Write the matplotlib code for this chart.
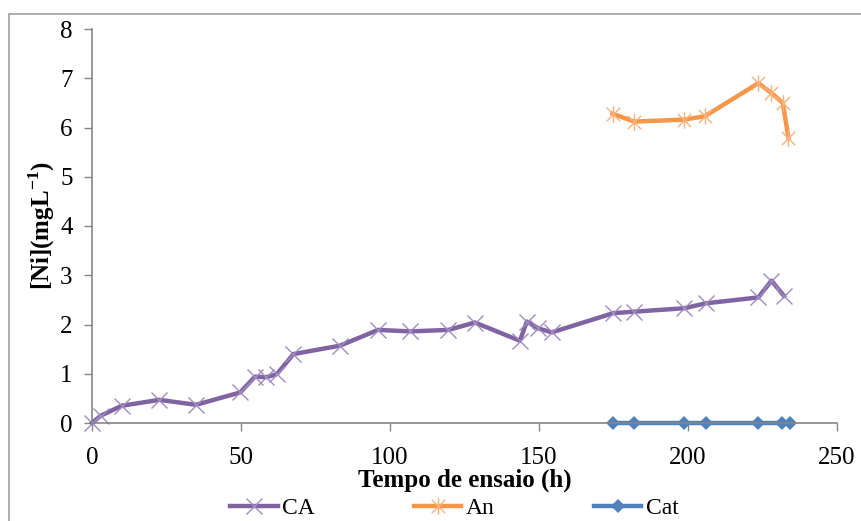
import matplotlib
matplotlib.use("Agg")
import matplotlib.pyplot as plt
from matplotlib.path import Path
from matplotlib.patches import Rectangle

# Data
ca_t = [0, 3, 10, 22.6, 34.9, 49.7, 54.7, 58.5, 62, 67.6, 83.2, 96, 106.7,
        119.6, 128.5, 143.6, 145.9, 149.8, 154.3, 174.9, 181.9, 198.7, 206,
        223.6, 228, 232.2]
ca_v = [0, 0.15, 0.35, 0.47, 0.37, 0.62, 0.94, 0.93, 0.99, 1.4, 1.57, 1.89, 1.86,
        1.89, 2.04, 1.67, 2.06, 1.92, 1.84, 2.23, 2.26, 2.33, 2.43,
        2.55, 2.89, 2.58]
an_t = [174.7, 181.9, 198.7, 205.7, 223.6, 228, 231.8, 233.7]
an_v = [6.28, 6.12, 6.16, 6.23, 6.9, 6.7, 6.5, 5.79]
cat_t = [174.9, 181.9, 198.7, 206, 223.6, 231.4, 234.2]
cat_v = [0, 0, 0, 0, 0, 0, 0]

x_ticks = [0, 50, 100, 150, 200, 250]
y_ticks = [0, 1, 2, 3, 4, 5, 6, 7, 8]

plt.rcParams['font.family'] = ['Liberation Serif', 'DejaVu Serif']
plt.rcParams['mathtext.fontset'] = 'custom'
plt.rcParams['mathtext.rm'] = 'Liberation Serif'
plt.rcParams['mathtext.bf'] = 'Liberation Serif:bold'

# asterisk marker: vertical line + two diagonals
star = Path([(0, -1), (0, 1), (-0.8, -0.8), (0.8, 0.8), (-0.8, 0.8), (0.8, -0.8)],
            [Path.MOVETO, Path.LINETO, Path.MOVETO, Path.LINETO, Path.MOVETO, Path.LINETO])

fig = plt.figure(figsize=(8.61, 5.21), dpi=100)
ax = fig.add_axes([92/861, 1 - 423/521, (837 - 92)/861, (423 - 29)/521])

c_ca = '#8064A2'
c_an = '#F79646'
c_cat = '#4F81BD'

ax.plot(ca_t, ca_v, color=c_ca, lw=3.2, marker='x', ms=12, mew=1.0,
        mec='#A08CC0', label='CA', solid_joinstyle='round', clip_on=False)
ax.plot(an_t, an_v, color=c_an, lw=3.2, marker=star, ms=12, mew=1.0,
        mec='#F9B07A', label='An', solid_joinstyle='round', clip_on=False)
ax.plot(cat_t, cat_v, color=c_cat, lw=3.2, marker='D', ms=7.5, mew=0,
        label='Cat', clip_on=False)

ax.set_xlim(0, 250)
ax.set_ylim(0, 8)
ax.set_xticks(x_ticks)
ax.set_yticks(y_ticks)
ax.tick_params(axis='both', labelsize=18, color='#868686', length=6, width=1,
               direction='out')
ax.tick_params(axis='x', pad=11)
ax.tick_params(axis='y', pad=8)
for s in ['top', 'right']:
    ax.spines[s].set_visible(False)
for s in ['left', 'bottom']:
    ax.spines[s].set_color('#868686')
    ax.spines[s].set_linewidth(1.2)

ax.set_xlabel('Tempo de ensaio (h)', fontsize=18, fontweight='bold', labelpad=0)
ax.set_ylabel(r'[Ni](mgL$^{\mathbf{-1}}$)', fontsize=18, fontweight='bold', labelpad=2)

fig.legend(loc='center', bbox_to_anchor=(0.528, 0.024), ncol=3, frameon=False,
           fontsize=17, handlelength=2.0, columnspacing=4.2, handletextpad=0.2,
           borderpad=0.1)

fig.patches.append(Rectangle((9/861, -0.1), 1.2, (521 - 14)/521 + 0.1,
                             transform=fig.transFigure, fill=False,
                             edgecolor='#A0A0A0', lw=1.2))

fig.savefig('out.png', dpi=100)
